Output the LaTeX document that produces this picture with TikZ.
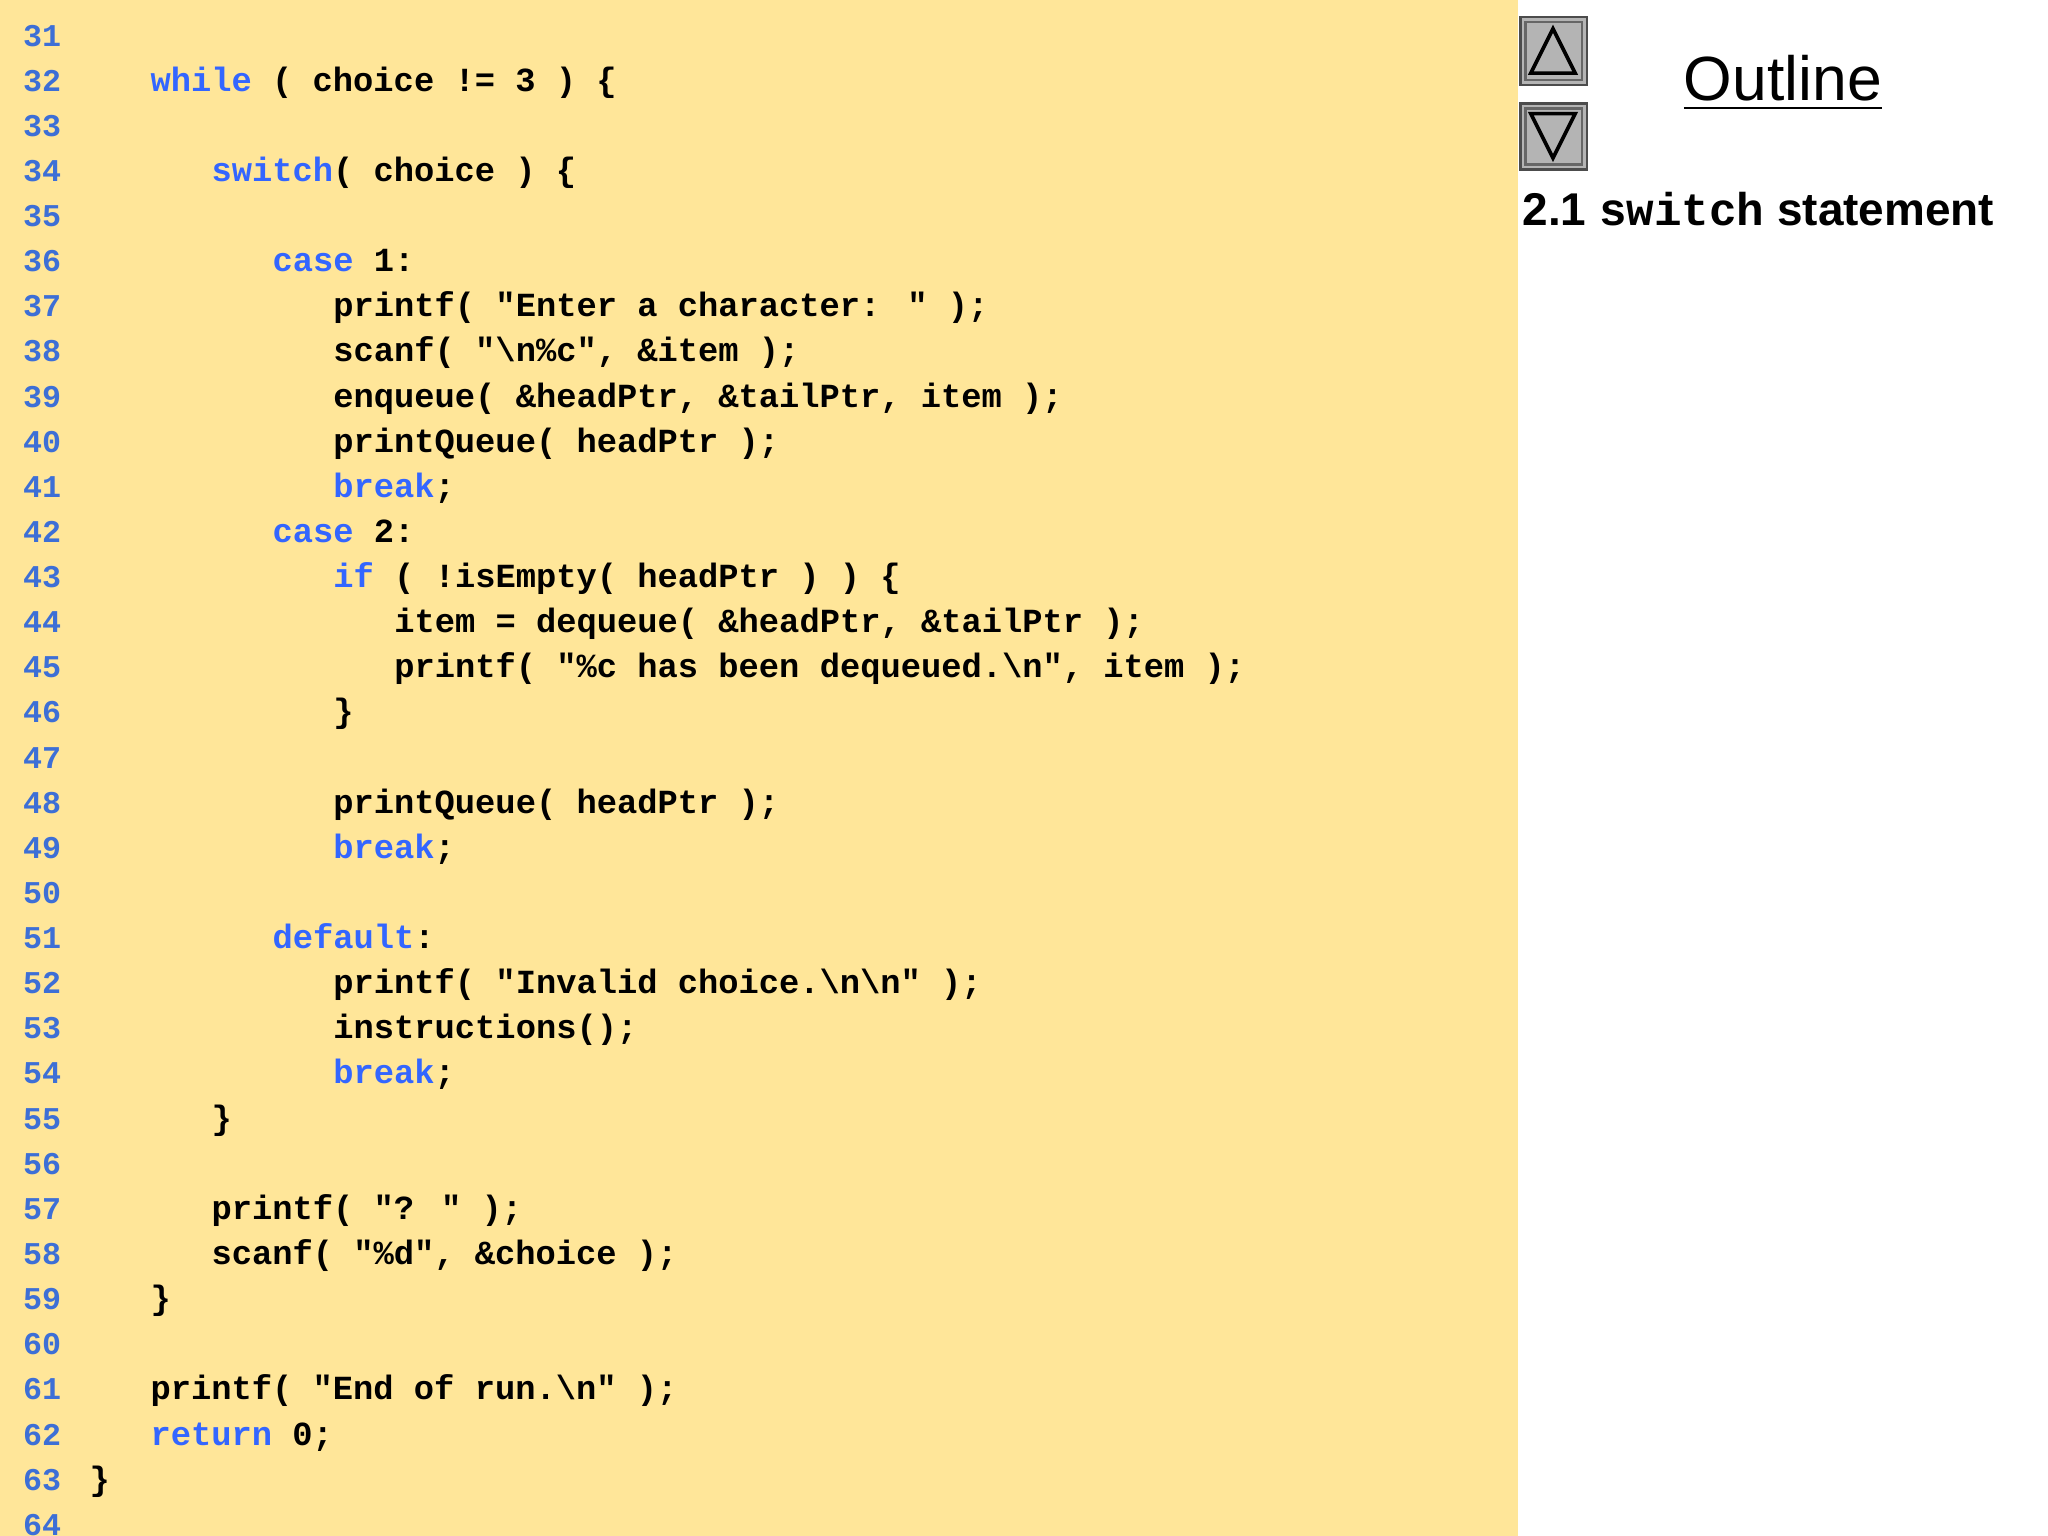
\documentclass[tikz,border=0pt]{standalone}
\usepackage{fontspec}
\setmainfont{Liberation Sans}
\newfontfamily\codefont{Liberation Mono}
\definecolor{bgy}{HTML}{FFE699}
\definecolor{kwb}{HTML}{3366FF}
\definecolor{lnb}{HTML}{3D6FD6}
\definecolor{btn}{HTML}{B4B4B4}
\newcommand{\kw}[1]{\textcolor{kwb}{#1}}
\newcommand{\bs}{\char`\\}
\newcommand{\pct}{\char`\%}
\newcommand{\amp}{\char`\&}
\newcommand{\lb}{\char`\{}
\newcommand{\rb}{\char`\}}
\tikzset{codeline/.style={anchor=mid west,inner sep=0pt,font=\codefont\bfseries\fontsize{7.35pt}{8pt}\selectfont,text=black},
lnum/.style={anchor=mid west,inner sep=0pt,font=\codefont\bfseries\fontsize{6.9pt}{8pt}\selectfont,text=lnb},
navbtn/.style={draw=black!70,line width=0.6pt,fill=btn}}
\begin{document}
\begin{tikzpicture}[x=0.01cm,y=-0.01cm]
\useasboundingbox (0,0) rectangle (1568,1176);
\fill[bgy] (0,0) rectangle (1162,1176);
\foreach \n in {31,...,64}{
  \node[lnum] (ln\n) at (17,{26+(\n-31)*34.55}) {\n};
}
\newcommand{\cl}[3]{\node[codeline] (c#1) at ({68+#2*15.55},{26+(#1-31)*34.55}) {#3};}
\cl{32}{3}{\kw{while} ( choice != 3 ) \lb}
\cl{34}{6}{\kw{switch}( choice ) \lb}
\cl{36}{9}{\kw{case} 1:}
\cl{37}{12}{printf( "Enter a character: " );}
\cl{38}{12}{scanf( "\bs n\pct c", \amp item );}
\cl{39}{12}{enqueue( \amp headPtr, \amp tailPtr, item );}
\cl{40}{12}{printQueue( headPtr );}
\cl{41}{12}{\kw{break};}
\cl{42}{9}{\kw{case} 2:}
\cl{43}{12}{\kw{if} ( !isEmpty( headPtr ) ) \lb}
\cl{44}{15}{item = dequeue( \amp headPtr, \amp tailPtr );}
\cl{45}{15}{printf( "\pct c has been dequeued.\bs n", item );}
\cl{46}{12}{\rb}
\cl{48}{12}{printQueue( headPtr );}
\cl{49}{12}{\kw{break};}
\cl{51}{9}{\kw{default}:}
\cl{52}{12}{printf( "Invalid choice.\bs n\bs n" );}
\cl{53}{12}{instructions();}
\cl{54}{12}{\kw{break};}
\cl{55}{6}{\rb}
\cl{57}{6}{printf( "? " );}
\cl{58}{6}{scanf( "\pct d", \amp choice );}
\cl{59}{3}{\rb}
\cl{61}{3}{printf( "End of run.\bs n" );}
\cl{62}{3}{\kw{return} 0;}
\cl{63}{0}{\rb}
% nav buttons
\draw[navbtn] (1164,13) rectangle (1215,65);
\draw[black!60,line width=0.5pt] (1168,17) rectangle (1211,61);
\draw[black,line width=0.8pt] (1172,56) -- (1189,22) -- (1206,56) -- cycle;
\draw[navbtn] (1164,79) rectangle (1215,130);
\draw[black!60,line width=0.5pt] (1168,83) rectangle (1211,126);
\draw[black,line width=0.8pt] (1172,87) -- (1189,121) -- (1206,87) -- cycle;
\node[anchor=mid,inner sep=0pt,font=\fontsize{13.6pt}{16pt}\selectfont] (outline) at (1365,68) {\underline{Outline}};
\node[anchor=mid west,inner sep=0pt,font=\bfseries\fontsize{10pt}{12pt}\selectfont] (sec) at (1165,163) {2.1 {\codefont switch} statement};
\end{tikzpicture}
\end{document}
